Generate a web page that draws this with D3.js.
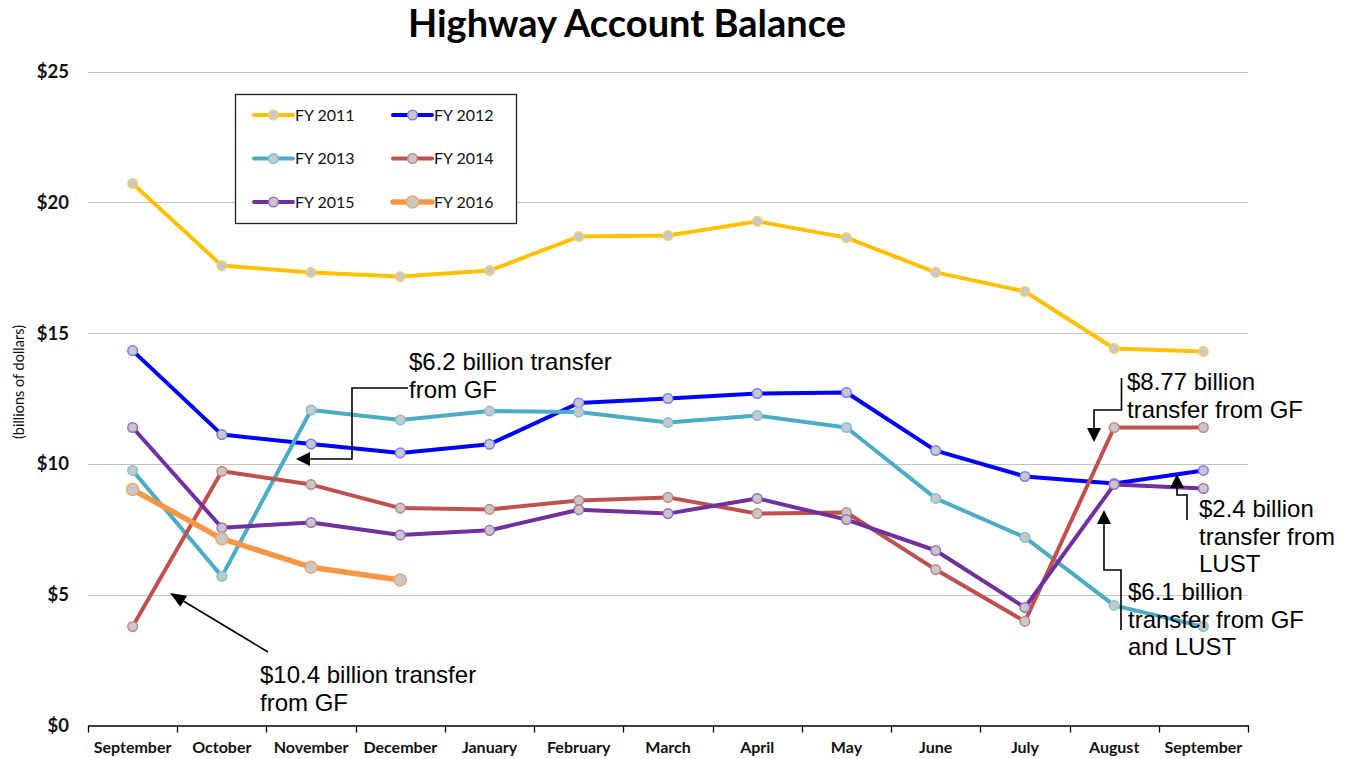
<!DOCTYPE html>
<html>
<head>
<meta charset="utf-8">
<script src="https://cdn.jsdelivr.net/npm/d3@7"></script>
<style>
  body { margin: 0; background: #fff; }
  svg { display: block; }
</style>
</head>
<body>
<div id="chart-area"></div>
<script>
// month labels along the x axis (fiscal year Sep..Sep)
var months = ['September', 'October', 'November', 'December', 'January', 'February',
  'March', 'April', 'May', 'June', 'July', 'August', 'September'];

var yTicks = [0, 5, 10, 15, 20, 25];

var seriesNames = ['FY 2011', 'FY 2012', 'FY 2013', 'FY 2014', 'FY 2015', 'FY 2016'];

// balances in billions of dollars
var fy2011 = [20.72, 17.58, 17.32, 17.16, 17.39, 18.69, 18.73, 19.27, 18.65, 17.32, 16.59, 14.41, 14.30];
var fy2012 = [14.33, 11.12, 10.76, 10.42, 10.75, 12.33, 12.50, 12.69, 12.73, 10.51, 9.52, 9.25, 9.75];
var fy2013 = [9.75, 5.70, 12.06, 11.68, 12.02, 11.98, 11.58, 11.85, 11.39, 8.68, 7.19, 4.59, 3.78];
var fy2014 = [3.78, 9.72, 9.21, 8.31, 8.26, 8.60, 8.72, 8.10, 8.14, 5.96, 3.98, 11.39, 11.39];
var fy2015 = [11.39, 7.56, 7.76, 7.28, 7.46, 8.25, 8.10, 8.68, 7.87, 6.69, 4.51, 9.21, 9.06];
var fy2016 = [9.02, 7.14, 6.05, 5.56];

var seriesValues = [fy2011, fy2012, fy2013, fy2014, fy2015, fy2016];
var seriesColors = ['#ffc000', '#0000ff', '#4bacc6', '#c0504d', '#7030a0', '#f79646'];
var markerStroke = ['#f7cf6a', '#7a7aff', '#7cc3d6', '#c98583', '#9a6cc0', '#f4a46a'];

var W = 1352, H = 759;
var plotLeft = 88, plotRight = 1248, plotTop = 71.5, plotBottom = 725.5;

var svg = d3.select('#chart-area')
  .append('svg')
    .attr('width', W)
    .attr('height', H);

// Scales
var x = d3.scaleBand()
  .domain(d3.range(months.length))
  .range([plotLeft, plotRight])
  .padding(0);

var y = d3.scaleLinear()
  .domain([0, 25])
  .range([plotBottom, plotTop]);

var cx = function(i) { return x(i) + x.bandwidth() / 2; };

// Title
svg.append('text')
  .attr('x', 627)
  .attr('y', 37)
  .attr('text-anchor', 'middle')
  .attr('font-family', 'Lato, sans-serif')
  .attr('font-weight', 'bold')
  .attr('font-size', '38px')
  .attr('fill', '#000')
  .text('Highway Account Balance');

// Gridlines
svg.append('g')
  .selectAll('line')
  .data(yTicks.filter(function(d) { return d > 0; }))
  .enter().append('line')
    .attr('x1', plotLeft)
    .attr('x2', plotRight)
    .attr('y1', function(d) { return Math.round(y(d)) + 0.5; })
    .attr('y2', function(d) { return Math.round(y(d)) + 0.5; })
    .attr('stroke', '#c4c4c4')
    .attr('stroke-width', 1.2);

// Y axis labels
var yAxisCall = d3.axisLeft(y)
  .tickValues(yTicks)
  .tickSize(0)
  .tickPadding(0)
  .tickFormat(function(d) { return '$' + d; });

var yAxisGroup = svg.append('g')
  .attr('transform', 'translate(69, 0)')
  .call(yAxisCall);
yAxisGroup.select('.domain').remove();
yAxisGroup.selectAll('text')
  .attr('font-family', 'Lato, sans-serif')
  .attr('font-size', '18.5px')
  .attr('font-weight', 'bold')
  .attr('fill', '#111');

// Y label
svg.append('text')
  .attr('transform', 'translate(24, 382) rotate(-90)')
  .attr('text-anchor', 'middle')
  .attr('font-family', 'Lato, sans-serif')
  .attr('font-size', '14.5px')
  .attr('fill', '#111')
  .text('(billions of dollars)');

// X Axis
var xAxisCall = d3.axisBottom(x)
  .tickSize(0)
  .tickPadding(16)
  .tickFormat(function(i) { return months[i]; });

var xAxisGroup = svg.append('g')
  .attr('transform', 'translate(0, ' + plotBottom + ')')
  .call(xAxisCall);
xAxisGroup.select('.domain')
  .attr('stroke', '#000')
  .attr('stroke-width', 1.3);
xAxisGroup.selectAll('text')
  .attr('font-family', 'Lato, sans-serif')
  .attr('font-size', '16px')
  .attr('font-weight', 'bold')
  .attr('fill', '#111');

// tick marks at band edges
var edges = x.domain().map(function(i) { return x(i); }).concat([plotRight]);
xAxisGroup.selectAll('.edge')
  .data(edges)
  .enter().append('line')
    .attr('class', 'edge')
    .attr('x1', function(d) { return Math.round(d) + 0.5; })
    .attr('x2', function(d) { return Math.round(d) + 0.5; })
    .attr('y1', 0)
    .attr('y2', 7)
    .attr('stroke', '#000')
    .attr('stroke-width', 1.3);

// Lines and markers
var line = d3.line()
  .x(function(d, i) { return cx(i); })
  .y(function(d) { return y(d); });

seriesValues.forEach(function(vals, s) {
  var big = s === 5;
  svg.append('path')
    .datum(vals)
    .attr('d', line)
    .attr('fill', 'none')
    .attr('stroke', seriesColors[s])
    .attr('stroke-width', big ? 5.5 : 4)
    .attr('stroke-linejoin', 'round');

  svg.append('g')
    .selectAll('circle')
    .data(vals)
    .enter().append('circle')
      .attr('cx', function(d, i) { return cx(i); })
      .attr('cy', function(d) { return y(d); })
      .attr('r', big ? 6 : 4.8)
      .attr('fill', '#c8c8c8')
      .attr('stroke', markerStroke[s])
      .attr('stroke-width', 1.5);
});

// Legend
var legend = svg.append('g');
legend.append('rect')
  .attr('x', 235.5)
  .attr('y', 94.5)
  .attr('width', 281)
  .attr('height', 129)
  .attr('fill', '#fff')
  .attr('stroke', '#222')
  .attr('stroke-width', 1.3);

seriesNames.forEach(function(name, s) {
  var col = s % 2, row = Math.floor(s / 2);
  var lx = col === 0 ? 254 : 393;
  var ly = 115 + row * 43.5;
  var g = legend.append('g').attr('transform', 'translate(' + lx + ',' + ly + ')');
  g.append('line')
    .attr('x1', 0).attr('x2', 39)
    .attr('y1', 0).attr('y2', 0)
    .attr('stroke', seriesColors[s])
    .attr('stroke-width', s === 5 ? 5.5 : 4)
    .attr('stroke-linecap', 'round');
  g.append('circle')
    .attr('cx', 19.5).attr('cy', 0)
    .attr('r', s === 5 ? 6 : 4.8)
    .attr('fill', '#c8c8c8')
    .attr('stroke', markerStroke[s])
    .attr('stroke-width', 1.5);
  g.append('text')
    .attr('x', 41)
    .attr('y', 0)
    .attr('dy', '0.36em')
    .attr('font-family', 'Lato, sans-serif')
    .attr('font-size', '16px')
    .attr('fill', '#111')
    .text(name);
});

// Annotations
var ann = svg.append('g')
  .attr('font-family', '"Liberation Sans", Arial, sans-serif')
  .attr('font-size', '24px')
  .attr('fill', '#000');

function note(xp, yp, lines) {
  var t = ann.append('text').attr('x', xp).attr('y', yp);
  lines.forEach(function(l, i) {
    t.append('tspan').attr('x', xp).attr('dy', i === 0 ? 0 : 27.5).text(l);
  });
}

function elbow(pts) {
  ann.append('path')
    .attr('d', d3.line()(pts))
    .attr('fill', 'none')
    .attr('stroke', '#000')
    .attr('stroke-width', 1.6);
}

// arrowhead: tip point and direction (unit vector)
function head(tx, ty, dx, dy, len, half) {
  var bx = tx - dx * len, by = ty - dy * len;
  var px = -dy, py = dx;
  ann.append('path')
    .attr('d', 'M' + tx + ',' + ty + 'L' + (bx + px * half) + ',' + (by + py * half) +
      'L' + (bx - px * half) + ',' + (by - py * half) + 'Z')
    .attr('fill', '#000');
}

note(409, 370, ['$6.2 billion transfer', 'from GF']);
elbow([[408, 388], [352, 388], [352, 459], [310, 459]]);
head(296, 459, -1, 0, 14, 7);

note(260, 683, ['$10.4 billion transfer', 'from GF']);
var ax = 170 - 268, ay = 593 - 652, al = Math.sqrt(ax * ax + ay * ay);
elbow([[268, 652], [180, 599]]);
head(170, 593, ax / al, ay / al, 16, 6.5);

note(1127, 390, ['$8.77 billion', 'transfer from GF']);
elbow([[1121.5, 378], [1121.5, 410], [1094, 410], [1094, 430]]);
head(1094, 442, 0, 1, 14, 7);

note(1199, 517, ['$2.4 billion', 'transfer from', 'LUST']);
elbow([[1187, 520], [1187, 495], [1177, 495], [1177, 486]]);
head(1177, 474, 0, -1, 14, 7);

note(1128, 600, ['$6.1 billion', 'transfer from GF', 'and LUST']);
elbow([[1121, 630], [1121, 570], [1104, 570], [1104, 522]]);
head(1104, 510, 0, -1, 14, 7);
</script>
</body>
</html>
